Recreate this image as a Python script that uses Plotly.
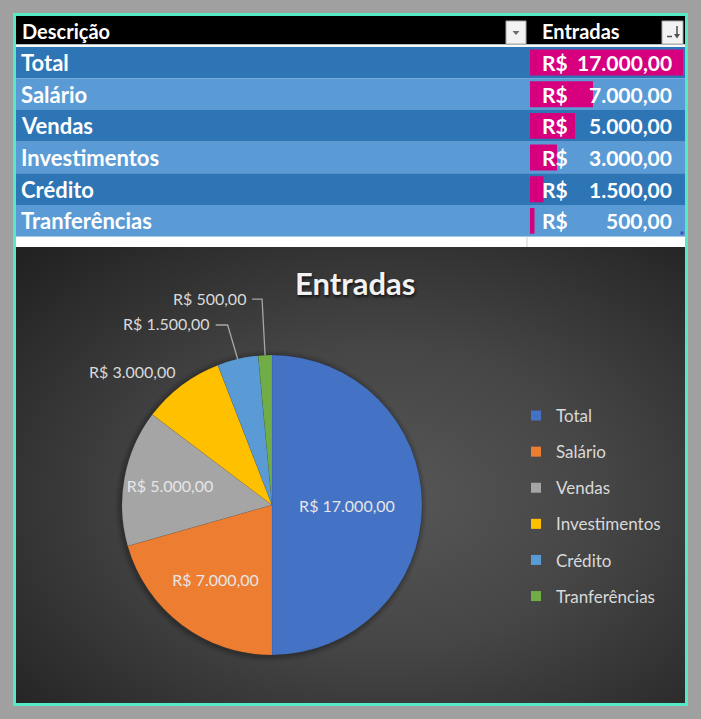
import base64
import math
import plotly.graph_objects as go

# ---------------- data ----------------
categories = ["Total", "Salário", "Vendas", "Investimentos", "Crédito", "Tranferências"]
values = [17000, 7000, 5000, 3000, 1500, 500]
header_labels = ["Descrição", "Entradas"]
chart_title = "Entradas"
currency = "R$"

# ---------------- styles ----------------
slice_colors = ["#4472c4", "#ed7d31", "#a5a5a5", "#ffc000", "#5b9bd5", "#70ad47"]
row_colors = ["#2e75b6", "#5b9bd5"]
bar_color = "#d6007e"
teal = "#55eac6"
page_gray = "#a0a0a0"
FONT = "Lato"
# outside label placement (pixel offset of label's right/middle from slice edge) and leader elbow
outside_style = {
    "Investimentos": dict(dx=-4, dy=-14, elbow=None),
    "Crédito": dict(dx=-26, dy=-35, elbow=-10),
    "Tranferências": dict(dx=-17, dy=-57, elbow=-3),
}

W, H = 701, 719


def px(x):
    return x / W


def py(y):
    return 1 - y / H


def brl(v):
    s = f"{v:,.2f}"
    return s.replace(",", "X").replace(".", ",").replace("X", ".")


value_texts = [brl(v) for v in values]
pie_texts = [f"{currency} {t}" for t in value_texts]

# geometry (pixels)
T_L, T_R = 16, 685
HDR_T, HDR_B = 16, 44.3
ROWS_T, ROWS_B = 46.7, 236.7
COL_X = 527
CH_T, CH_B = 247, 703
BAR_L, BAR_R = 530, 683
PIE_L, PIE_R, PIE_T, PIE_B = 122, 422, 355, 655
PCX, PCY, PR = (PIE_L + PIE_R) / 2, (PIE_T + PIE_B) / 2, (PIE_R - PIE_L) / 2

fig = go.Figure()

# data bars in the table
fig.add_trace(go.Bar(
    x=values, y=categories, orientation="h",
    marker=dict(color=bar_color, line=dict(width=0)),
    width=0.82, xaxis="x2", yaxis="y2", showlegend=False, hoverinfo="skip",
))

# pie
textpos = ["none" if c in outside_style else "inside" for c in categories]
fig.add_trace(go.Pie(
    labels=categories, values=values, customdata=pie_texts,
    texttemplate="%{customdata}", textposition=textpos,
    sort=False, direction="clockwise", rotation=0,
    marker=dict(colors=slice_colors, line=dict(color="rgba(0,0,0,0.12)", width=0.5)),
    insidetextfont=dict(family=FONT, size=16, color="#e6e6e6"),
    insidetextorientation="horizontal",
    domain=dict(x=[px(PIE_L), px(PIE_R)], y=[py(PIE_B), py(PIE_T)]),
    showlegend=False, hoverinfo="label+value",
))

# legend entries
for cat, col in zip(categories, slice_colors):
    fig.add_trace(go.Scatter(
        x=[None], y=[None], mode="markers", name=cat, legendgroup=cat,
        marker=dict(symbol="square", size=10, color=col),
        xaxis="x3", yaxis="y3", showlegend=True,
    ))

# background gradient for chart
gw, gh = T_R - T_L, CH_B - CH_T
svg = (
    f'<svg xmlns="http://www.w3.org/2000/svg" width="{gw}" height="{gh}" '
    f'viewBox="0 0 {gw} {gh}" preserveAspectRatio="none"><defs>'
    '<radialGradient id="g" cx="55%" cy="55%" r="75%">'
    '<stop offset="0" stop-color="#575757"/><stop offset="0.45" stop-color="#454545"/>'
    '<stop offset="1" stop-color="#222222"/></radialGradient></defs>'
    f'<rect width="{gw}" height="{gh}" fill="url(#g)"/></svg>'
)
src = "data:image/svg+xml;base64," + base64.b64encode(svg.encode()).decode()

shapes = []
shapes.append(dict(type="rect", xref="paper", yref="paper", x0=px(T_L), x1=px(T_R),
                   y0=py(CH_T), y1=py(HDR_T), fillcolor="white", line=dict(width=0), layer="below"))
shapes.append(dict(type="rect", xref="paper", yref="paper", x0=px(T_L), x1=px(T_R),
                   y0=py(HDR_B), y1=py(HDR_T), fillcolor="black", line=dict(width=0), layer="below"))
for i, cat in enumerate(categories):
    shapes.append(dict(type="rect", xref="paper", yref="y2", x0=px(T_L), x1=px(T_R),
                       y0=i - 0.5, y1=i + 0.5, fillcolor=row_colors[i % 2],
                       line=dict(width=0), layer="below"))
shapes.append(dict(type="line", xref="paper", yref="paper", x0=px(COL_X), x1=px(COL_X),
                   y0=py(CH_T), y1=py(ROWS_B), line=dict(color="#d0d0d0", width=1)))
shapes.append(dict(type="rect", xref="paper", yref="paper", x0=px(680.5), x1=px(683.5),
                   y0=py(234.5), y1=py(231.5), fillcolor="#3f4fbf", line=dict(width=0)))
for bx0, bx1 in [(506, 526), (662, 683)]:
    shapes.append(dict(type="rect", xref="paper", yref="paper", x0=px(bx0), x1=px(bx1),
                       y0=py(44), y1=py(21), fillcolor="#f2f2f2",
                       line=dict(color="#a8a8a8", width=1)))
shapes.append(dict(type="path", xref="paper", yref="paper",
                   path=f"M {px(512.5)} {py(31)} L {px(519.5)} {py(31)} L {px(516)} {py(35)} Z",
                   fillcolor="#6a6a6a", line=dict(width=0)))
shapes.append(dict(type="line", xref="paper", yref="paper", x0=px(677), x1=px(677),
                   y0=py(26), y1=py(37), line=dict(color="#505050", width=1.5)))
shapes.append(dict(type="path", xref="paper", yref="paper",
                   path=f"M {px(674)} {py(34)} L {px(680)} {py(34)} L {px(677)} {py(38.5)} Z",
                   fillcolor="#505050", line=dict(width=0)))
shapes.append(dict(type="line", xref="paper", yref="paper", x0=px(667), x1=px(672),
                   y0=py(36.5), y1=py(36.5), line=dict(color="#505050", width=1.5)))
# soft pie shadow
for grow, op in [(6, 0.06), (4, 0.08), (2, 0.12)]:
    shapes.append(dict(type="circle", xref="paper", yref="paper",
                       x0=px(PIE_L - grow - 1), x1=px(PIE_R + grow - 1),
                       y0=py(PIE_B + grow + 1), y1=py(PIE_T - grow + 1),
                       fillcolor=f"rgba(0,0,0,{op})", line=dict(width=0), layer="below"))
shapes.append(dict(type="rect", xref="paper", yref="paper", x0=px(14.5), x1=px(686.5),
                   y0=py(704.5), y1=py(14.5), line=dict(color=teal, width=3)))

annotations = []
hdr_font = dict(family=FONT, size=20, color="white", weight="bold")
annotations.append(dict(text=header_labels[0], xref="paper", yref="paper", x=px(20), y=py(31),
                        xanchor="left", yanchor="middle", showarrow=False, font=hdr_font))
annotations.append(dict(text=header_labels[1], xref="paper", yref="paper", x=px(540), y=py(31),
                        xanchor="left", yanchor="middle", showarrow=False, font=hdr_font))
row_font = dict(family=FONT, size=22, color="white", weight="bold")
val_font = dict(family=FONT, size=21, color="white", weight="bold")
for cat, vt in zip(categories, value_texts):
    annotations.append(dict(text=cat, xref="paper", yref="y2", x=px(19), y=cat,
                            xanchor="left", yanchor="middle", showarrow=False, font=row_font))
    annotations.append(dict(text=currency, xref="paper", yref="y2", x=px(540), y=cat,
                            xanchor="left", yanchor="middle", showarrow=False, font=val_font))
    annotations.append(dict(text=vt, xref="paper", yref="y2", x=px(674), y=cat,
                            xanchor="right", yanchor="middle", showarrow=False, font=val_font))

# outside pie labels + leader lines (anchored on each slice's mid-angle edge)
total = sum(values)
cum = 0
for cat, v, txt in zip(categories, values, pie_texts):
    mid = (cum + v / 2) / total * 2 * math.pi
    cum += v
    if cat not in outside_style:
        continue
    st = outside_style[cat]
    ex, ey = PCX + PR * math.sin(mid), PCY - PR * math.cos(mid)
    lx, ly = ex + st["dx"], ey + st["dy"]
    annotations.append(dict(text=txt, xref="paper", yref="paper", x=px(lx), y=py(ly),
                            xanchor="right", yanchor="middle", showarrow=False,
                            font=dict(family=FONT, size=16, color="#d9d9d9")))
    if st["elbow"] is not None:
        kx = ex + st["elbow"]
        shapes.append(dict(type="path", xref="paper", yref="paper",
                           path=f"M {px(lx + 4)} {py(ly + 1)} L {px(kx)} {py(ly + 1)} L {px(ex)} {py(ey)}",
                           line=dict(color="#a6a6a6", width=1.3)))

annotations.append(dict(text=chart_title, xref="paper", yref="paper", x=px(355), y=py(283),
                        xanchor="center", yanchor="middle", showarrow=False,
                        font=dict(family=FONT, size=31, color="#f2f2f2", weight="bold",
                                  shadow="1px 2px 3px rgba(0,0,0,0.7)")))

fig.update_layout(
    width=W, height=H, margin=dict(l=0, r=0, t=0, b=0),
    paper_bgcolor=page_gray, plot_bgcolor="rgba(0,0,0,0)",
    xaxis=dict(visible=False), yaxis=dict(visible=False),
    xaxis2=dict(domain=[px(BAR_L), px(BAR_R)], range=[0, max(values)], visible=False,
                fixedrange=True, anchor="y2"),
    yaxis2=dict(domain=[py(ROWS_B), py(ROWS_T)], type="category",
                categoryorder="array", categoryarray=categories,
                range=[len(categories) - 0.5, -0.5], visible=False, fixedrange=True, anchor="x2"),
    xaxis3=dict(domain=[0, 0.01], visible=False, anchor="y3"),
    yaxis3=dict(domain=[0, 0.01], visible=False, anchor="x3"),
    shapes=shapes, annotations=annotations,
    images=[dict(source=src, xref="paper", yref="paper", x=px(T_L), y=py(CH_T),
                 sizex=px(T_R) - px(T_L), sizey=(CH_B - CH_T) / H, sizing="stretch",
                 xanchor="left", yanchor="top", layer="below")],
    legend=dict(x=px(516), y=py(398), xanchor="left", yanchor="top",
                bgcolor="rgba(0,0,0,0)", font=dict(family=FONT, size=17, color="#d9d9d9"),
                traceorder="grouped", tracegroupgap=11, itemwidth=30, itemclick=False),
    showlegend=True,
)

fig.write_html("out.html", config=dict(displayModeBar=False))
